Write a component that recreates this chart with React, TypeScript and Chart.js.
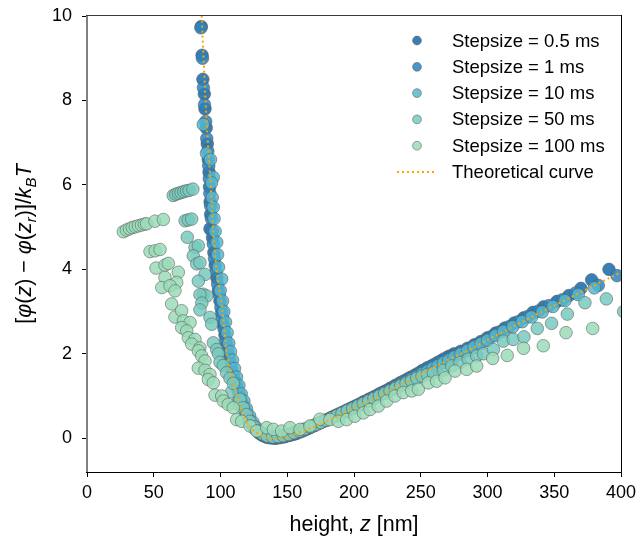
import React, { useEffect, useRef } from 'react';
import { Chart, registerables } from 'chart.js';

Chart.register(...registerables);

const FONT = '"Liberation Sans", Arial, Helvetica, sans-serif';

const xTicks = [0, 50, 100, 150, 200, 250, 300, 350, 400];
const yTicks = [0, 2, 4, 6, 8, 10];
const xRange = [0, 400];
const yRange = [-0.8, 10];

const seriesLabels = [
  'Stepsize = 0.5 ms',
  'Stepsize = 1 ms',
  'Stepsize = 10 ms',
  'Stepsize = 50 ms',
  'Stepsize = 100 ms',
];
const theoryLabel = 'Theoretical curve';

const seriesColors = [
  'rgba(20,105,170,0.85)',
  'rgba(44,132,190,0.85)',
  'rgba(85,185,208,0.85)',
  'rgba(120,202,190,0.85)',
  'rgba(155,220,185,0.85)',
];
const edgeColor = 'rgba(90,90,90,0.55)';
const theoryColor = '#FFA500';

// [z (nm), potential (kBT)]
const step05: [number, number][] = [
  [85.6, 9.75], [86.2, 9.07], [86.8, 8.5], [87.9, 8.15], [88.4, 7.8], [89.3, 7.35], [90.1, 6.97],
  [90.8, 6.6], [91.4, 6.3], [91.8, 5.95], [92.2, 5.6], [92.6, 5.3], [92.1, 4.96], [94.0, 4.75],
  [95.0, 4.4], [96.0, 4.1], [97.2, 3.8], [98.4, 3.5], [99.6, 3.25], [100.9, 2.98], [102.0, 2.7],
  [103.3, 2.45], [104.6, 2.2], [106.0, 1.95], [107.5, 1.72], [109.6, 1.48], [111.5, 1.28],
  [113.5, 1.08], [115.8, 0.86], [118.4, 0.65], [120.8, 0.48], [123.4, 0.33], [126, 0.22],
  [129, 0.12], [132, 0.06], [135, 0.02], [138.4, 0.01], [141.5, 0.0], [145, 0.02], [148.5, 0.04],
  [152, 0.07], [155.5, 0.1], [159.6, 0.15], [163.5, 0.2], [167, 0.25], [171, 0.31], [175, 0.37],
  [179, 0.43], [183, 0.49], [187, 0.55], [191, 0.61], [195, 0.67], [199, 0.73], [203, 0.79],
  [207, 0.86], [211, 0.92], [215, 0.98], [219, 1.05], [223, 1.11], [227, 1.18], [231, 1.25],
  [235, 1.32], [239, 1.38], [243, 1.45], [247, 1.52], [251, 1.6], [255, 1.67], [259, 1.73],
  [263, 1.8], [267, 1.87], [271, 1.94], [275, 2.0], [280, 2.06], [285, 2.13], [290, 2.21],
  [295, 2.29], [300, 2.38], [306, 2.49], [313, 2.61], [320, 2.73], [327, 2.85], [334, 2.98],
  [342, 3.11], [352, 3.24], [361, 3.38], [370, 3.55], [378, 3.75], [391, 4.0],
];

const step1: [number, number][] = [
  [85.3, 9.72], [86.5, 9.0], [87.2, 8.3], [88.0, 7.9], [88.9, 7.5], [89.7, 7.1], [90.5, 6.8],
  [91.2, 6.45], [91.6, 6.15], [92.0, 5.8], [92.6, 5.5], [93.2, 5.2], [93.9, 4.9], [94.6, 4.6],
  [95.5, 4.25], [96.6, 3.95], [97.8, 3.65], [99.0, 3.4], [100.3, 3.1], [101.5, 2.85], [102.6, 2.6],
  [104.0, 2.32], [105.3, 2.08], [106.8, 1.85], [108.4, 1.62], [110.5, 1.38], [112.5, 1.18],
  [114.6, 0.98], [117, 0.76], [119.5, 0.57], [122, 0.41], [124.6, 0.28], [127.5, 0.17],
  [130.5, 0.09], [133.5, 0.04], [137, 0.01], [140, 0.0], [143.5, 0.01], [147, 0.03], [150.5, 0.06],
  [154, 0.09], [157.5, 0.12], [161.5, 0.17], [165.5, 0.23], [169, 0.28], [173, 0.34], [177, 0.4],
  [181, 0.46], [185, 0.52], [189, 0.58], [193, 0.64], [197, 0.7], [201, 0.76], [205, 0.82],
  [209, 0.88], [213, 0.95], [217, 1.01], [221, 1.08], [225, 1.14], [229, 1.21], [233, 1.28],
  [237, 1.35], [241, 1.42], [245, 1.48], [249, 1.55], [253, 1.62], [257, 1.69], [261, 1.76],
  [265, 1.83], [269, 1.9], [273, 1.94], [277, 1.98], [282, 2.05], [287, 2.13], [292, 2.22],
  [297, 2.3], [303, 2.41], [309, 2.52], [316, 2.64], [323, 2.76], [330, 2.88], [338, 3.01],
  [346, 3.14], [356, 3.28], [366, 3.44], [383, 3.62], [397, 3.85],
];

const step10: [number, number][] = [
  [87.1, 7.43], [89.5, 6.75], [92.5, 6.6], [94.6, 6.18], [93.3, 6.05], [93.8, 5.7], [94.6, 5.47],
  [95.2, 5.2], [96.0, 4.9], [97.2, 4.64], [97.8, 4.35], [98.5, 4.05], [100.9, 3.77], [99.8, 3.5],
  [101.5, 3.25], [102.5, 3.0], [103.8, 2.75], [105.0, 2.5], [106.2, 2.25], [107.5, 2.05],
  [109.0, 1.85], [110.5, 1.65], [112.0, 1.45], [113.8, 1.25], [115.5, 1.05], [117.5, 0.88],
  [119.5, 0.7], [121.8, 0.53], [124.3, 0.38], [127, 0.25], [130, 0.15], [133, 0.08], [136.5, 0.04],
  [140, 0.02], [143.5, 0.03], [147, 0.05], [151, 0.08], [155, 0.12], [159, 0.16], [163, 0.21],
  [167, 0.26], [171, 0.31], [175, 0.37], [179, 0.42], [183, 0.48], [187, 0.54], [191, 0.6],
  [195, 0.66], [199, 0.72], [203, 0.78], [207, 0.84], [211, 0.9], [215, 0.96], [219, 1.02],
  [223, 1.08], [227, 1.14], [231, 1.21], [235, 1.27], [239, 1.33], [243, 1.4], [247, 1.46],
  [251, 1.53], [255, 1.59], [259, 1.66], [263, 1.72], [267, 1.79], [271, 1.85], [275, 1.92],
  [280, 2.0], [285, 2.08], [290, 2.16], [295, 2.24], [300, 2.32], [306, 2.43], [312, 2.53],
  [319, 2.64], [326, 2.76], [333, 2.87], [341, 2.99], [349, 3.12], [358, 3.26], [368, 3.4],
  [380, 3.56],
];

const step50: [number, number][] = [
  [64.6, 5.75], [66.5, 5.78], [68.5, 5.8], [70.5, 5.82], [72.5, 5.84], [74.5, 5.86], [76.5, 5.87],
  [79.3, 5.9], [73.5, 5.15], [75.8, 5.17], [78.4, 5.19], [75.1, 4.76], [80.9, 4.52], [83.4, 4.56],
  [79.6, 4.32], [82.2, 4.13], [84.6, 4.16], [88.4, 3.88], [83.4, 3.72], [87.1, 3.41], [89.7, 3.37],
  [84.6, 3.4], [86.0, 3.2], [84.6, 3.04], [92.1, 2.86], [93.4, 2.7], [94.6, 2.26], [97.2, 2.1],
  [98.4, 2.0], [99.6, 1.8], [102.1, 1.72], [104.6, 1.55], [107.1, 1.42], [108.4, 1.1],
  [109.6, 1.3], [112, 0.82], [114.5, 0.92], [117, 0.72], [119.5, 0.56], [122, 0.4], [125, 0.27],
  [128, 0.17], [131.5, 0.1], [135, 0.05], [139, 0.03], [143, 0.04], [147, 0.06], [151, 0.09],
  [155, 0.13], [159, 0.17], [163, 0.22], [167, 0.27], [171, 0.32], [175, 0.37], [179, 0.42],
  [183, 0.48], [187, 0.53], [191, 0.59], [195, 0.65], [199, 0.7], [203, 0.76], [207, 0.82],
  [211, 0.88], [215, 0.94], [219, 1.0], [223, 1.06], [227, 1.12], [231, 1.18], [235, 1.24],
  [239, 1.3], [243, 1.36], [247, 1.42], [251, 1.47], [255, 1.51], [259.4, 1.55], [266.9, 1.61],
  [273.2, 1.71], [279.4, 1.79], [285.6, 1.87], [291.9, 1.95], [296.9, 2.0], [304.4, 2.1],
  [311.9, 2.3], [319.3, 2.34], [327.3, 2.4], [337.3, 2.6], [348, 2.72], [359.8, 2.94],
  [373, 3.21], [389, 3.3], [402, 3.0],
];

const step100: [number, number][] = [
  [27.2, 4.89], [29.5, 4.93], [31.8, 4.96], [34, 4.99], [36.2, 5.01], [38.5, 5.03], [40.8, 5.05],
  [43, 5.07], [44.7, 5.08], [50.9, 5.14], [57.2, 5.18], [47.2, 4.42], [51, 4.44], [54.7, 4.47],
  [51.7, 4.03], [58.4, 4.1], [60.9, 4.14], [58.4, 3.81], [68.4, 3.93], [67.2, 3.69], [56, 3.57],
  [62.2, 3.61], [65.9, 3.49], [63.4, 3.18], [65.9, 2.87], [70.9, 3.02], [72.2, 2.78], [77.2, 2.74],
  [70.9, 2.62], [74.7, 2.54], [75.9, 2.38], [80.9, 2.34], [78.4, 2.23], [84.6, 2.14], [83.4, 2.07],
  [85.9, 1.95], [88.4, 1.83], [83.4, 1.66], [88.4, 1.61], [92.1, 1.51], [90.9, 1.39], [94.6, 1.31],
  [95.9, 1.02], [100.9, 1.0], [102.1, 0.88], [105.8, 0.8], [109.6, 0.72], [112.1, 0.44],
  [115.9, 0.4], [122.1, 0.29], [127.1, 0.17], [134.6, 0.25], [139.6, 0.21], [145.8, 0.17],
  [152, 0.25], [159.6, 0.21], [167, 0.29], [174.5, 0.45], [182, 0.44], [188.2, 0.4], [194.5, 0.44],
  [200.7, 0.52], [207, 0.6], [212, 0.68], [218.2, 0.76], [224.5, 0.88], [230.7, 1.0],
  [236.9, 1.08], [243.2, 1.12], [248.2, 1.16], [255.7, 1.31], [261.9, 1.35], [268.2, 1.43],
  [275.7, 1.59], [284.4, 1.63], [291.9, 1.71], [303.9, 1.89], [314.8, 1.96], [327, 2.13],
  [341.8, 2.19], [358.8, 2.5], [378.8, 2.6],
];

const theory: [number, number][] = [
  [85.6, 10.6], [85.9, 10.0], [86.7, 9.4], [87.6, 8.8], [89.1, 7.77], [90.9, 6.82], [92.2, 6.2],
  [93.4, 5.63], [94.6, 4.9], [95.8, 4.4], [97.0, 4.0], [99.0, 3.55], [101.0, 3.15], [103.0, 2.55],
  [104.8, 2.0], [106.5, 1.7], [108.4, 1.43], [112.0, 1.04], [116.0, 0.64], [120.0, 0.36],
  [125.0, 0.17], [132.0, 0.03], [140.0, -0.02], [147.0, 0.01], [154, 0.06], [160, 0.15],
  [166, 0.22], [172, 0.3], [178, 0.38], [185, 0.48], [197, 0.68], [210, 0.87], [222, 1.06],
  [235, 1.26], [247, 1.46], [260, 1.68], [272, 1.88], [285, 2.07], [300, 2.33], [325, 2.74],
  [350, 3.14], [375, 3.54], [400, 3.93],
];

const seriesData = [step05, step1, step10, step50, step100];

type Seg = { t: string; it?: boolean; sub?: boolean };

function segFont(s: Seg, base: number) {
  const size = s.sub ? base * 0.7 : base;
  return `${s.it ? 'italic ' : ''}${size}px ${FONT}`;
}

function drawSegs(ctx: CanvasRenderingContext2D, segs: Seg[], base: number, cx: number, baseY: number) {
  let total = 0;
  const widths = segs.map((s) => {
    ctx.font = segFont(s, base);
    const w = ctx.measureText(s.t).width;
    total += w;
    return w;
  });
  let x = cx - total / 2;
  ctx.textAlign = 'left';
  ctx.textBaseline = 'alphabetic';
  segs.forEach((s, i) => {
    ctx.font = segFont(s, base);
    ctx.fillText(s.t, x, baseY + (s.sub ? base * 0.22 : 0));
    x += widths[i];
  });
}

const decorPlugin = {
  id: 'decor',
  afterDatasetsDraw(chart: any) {
    const { ctx } = chart;
    const { left, right, top, bottom } = chart.chartArea;
    ctx.save();
    ctx.fillStyle = '#808080';
    ctx.fillRect(left - 1, top - 1, 2, bottom - top + 2);
    ctx.fillStyle = '#3c3c3c';
    ctx.fillRect(left - 1, top - 1, right - left + 2, 1);
    ctx.fillStyle = '#000';
    ctx.fillRect(right, top - 1, 1, bottom - top + 2);
    ctx.fillRect(left - 1, bottom, right - left + 2, 1);
    ctx.restore();
  },
  afterDraw(chart: any) {
    const { ctx } = chart;
    const { left, right, top, bottom } = chart.chartArea;
    ctx.save();
    // legend
    const mx = right - 204;
    const tx = right - 169;
    const rowH = 26.3;
    const y0 = top + 24.5;
    ctx.font = `18.5px ${FONT}`;
    ctx.textBaseline = 'middle';
    ctx.textAlign = 'left';
    seriesLabels.forEach((lab, i) => {
      const y = y0 + i * rowH;
      ctx.beginPath();
      ctx.arc(mx, y, 4.4, 0, Math.PI * 2);
      ctx.fillStyle = seriesColors[i];
      ctx.fill();
      ctx.lineWidth = 1;
      ctx.strokeStyle = edgeColor;
      ctx.stroke();
      ctx.fillStyle = '#000';
      ctx.fillText(lab, tx, y + 1);
    });
    const ly = y0 + 5 * rowH;
    ctx.beginPath();
    ctx.setLineDash([2, 3]);
    ctx.strokeStyle = theoryColor;
    ctx.lineWidth = 2;
    ctx.moveTo(mx - 20, ly);
    ctx.lineTo(mx + 19, ly);
    ctx.stroke();
    ctx.setLineDash([]);
    ctx.fillStyle = '#000';
    ctx.fillText(theoryLabel, tx, ly + 1);

    // x title
    ctx.fillStyle = '#000';
    drawSegs(ctx, [{ t: 'height, ' }, { t: 'z', it: true }, { t: ' [nm]' }], 21.5, (left + right) / 2, 531);

    // y title
    ctx.save();
    ctx.translate(31, (top + bottom) / 2);
    ctx.rotate(-Math.PI / 2);
    drawSegs(
      ctx,
      [
        { t: '[' }, { t: 'φ', it: true }, { t: '(' }, { t: 'z', it: true }, { t: ')' },
        { t: ' − ' }, { t: 'φ', it: true }, { t: '(' }, { t: 'z', it: true },
        { t: 'r', it: true, sub: true }, { t: ')' }, { t: ']' }, { t: '/' },
        { t: 'k', it: true }, { t: 'B', it: true, sub: true }, { t: 'T', it: true },
      ],
      21.5,
      0,
      0
    );
    ctx.restore();
    ctx.restore();
  },
};

export default function App() {
  const ref = useRef<HTMLCanvasElement | null>(null);

  useEffect(() => {
    if (!ref.current) return;
    const scatterSets = seriesData.map((d, i) => ({
      type: 'scatter' as const,
      label: seriesLabels[i],
      data: d.map(([x, y]) => ({ x, y })),
      backgroundColor: seriesColors[i],
      borderColor: edgeColor,
      borderWidth: 1,
      pointRadius: 6.3,
      pointHoverRadius: 6.3,
      showLine: false,
      clip: 0,
      order: 5 - i,
    }));
    const chart = new Chart(ref.current, {
      type: 'scatter',
      data: {
        datasets: [
          {
            type: 'scatter' as const,
            label: theoryLabel,
            data: theory.map(([x, y]) => ({ x, y })),
            showLine: true,
            borderColor: theoryColor,
            backgroundColor: theoryColor,
            borderWidth: 2,
            borderDash: [2, 3],
            pointRadius: 0,
            pointHoverRadius: 0,
            tension: 0,
            clip: 0,
            order: 0,
          } as any,
          ...scatterSets,
        ],
      },
      options: {
        animation: false,
        responsive: false,
        events: [],
        layout: { padding: { top: 16, right: 19, left: 0, bottom: 0 } },
        plugins: { legend: { display: false }, tooltip: { enabled: false } },
        scales: {
          x: {
            type: 'linear',
            min: xRange[0],
            max: xRange[1],
            afterBuildTicks: (s: any) => {
              s.ticks = xTicks.map((v) => ({ value: v }));
            },
            afterFit: (s: any) => {
              s.height = 72;
              s.paddingLeft = 0;
              s.paddingRight = 0;
            },
            border: { display: false },
            grid: { display: true, drawOnChartArea: false, drawTicks: true, tickLength: 5, color: '#000', lineWidth: 1 },
            ticks: { color: '#000', font: { family: FONT, size: 18 }, padding: 5, maxRotation: 0 },
          },
          y: {
            type: 'linear',
            min: yRange[0],
            max: yRange[1],
            afterBuildTicks: (s: any) => {
              s.ticks = yTicks.map((v) => ({ value: v }));
            },
            afterFit: (s: any) => {
              s.width = 87;
              s.paddingTop = 0;
              s.paddingBottom = 0;
            },
            border: { display: false },
            grid: { display: true, drawOnChartArea: false, drawTicks: true, tickLength: 5, color: '#000', lineWidth: 1 },
            ticks: { color: '#000', font: { family: FONT, size: 18 }, padding: 10 },
          },
        },
      },
      plugins: [decorPlugin],
    } as any);
    return () => chart.destroy();
  }, []);

  return (
    <div style={{ position: 'fixed', left: 0, top: 0, width: 640, height: 544, background: '#fff' }}>
      <canvas ref={ref} width={640} height={544} style={{ display: 'block', width: 640, height: 544 }} />
    </div>
  );
}
